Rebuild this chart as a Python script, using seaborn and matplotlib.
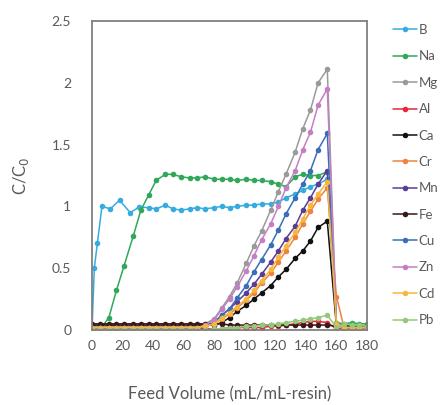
import numpy as np
import pandas as pd
import matplotlib
matplotlib.use("Agg")
import matplotlib.pyplot as plt
import seaborn as sns

sns.set_theme(style="white")
plt.rcParams['font.family'] = ['Lato', 'DejaVu Sans']

# ---- data ----
elements = ["B", "Na", "Mg", "Al", "Ca", "Cr", "Mn", "Fe", "Cu", "Zn", "Cd", "Pb"]

x_main = [0, 5, 11, 16, 21, 27, 32, 37, 42, 48, 53, 58, 64, 69, 74, 80, 85, 90,
          95, 101, 106, 111, 117, 122, 127, 133, 138, 143, 148, 154, 160, 165,
          170, 175, 180]

x_B = [0, 1.5, 3.5, 6.5, 12, 18, 25, 31, 37, 42, 48, 53, 58, 64, 69, 74, 80, 85,
       90, 95, 101, 106, 111, 117, 122, 127, 133, 138, 143, 148, 154, 160, 165,
       170, 175, 180]
B = [0, 0.50, 0.70, 1.00, 0.98, 1.05, 0.95, 0.995, 0.99, 0.98, 1.01, 0.98, 0.97,
     0.98, 0.99, 0.98, 0.99, 1.00, 0.99, 1.00, 1.01, 1.01, 1.02, 1.02, 1.035,
     1.07, 1.10, 1.13, 1.16, 1.18, 1.22, 0.05, 0.04, 0.04, 0.03, 0.03]

Na = [0, 0.0, 0.10, 0.32, 0.52, 0.76, 0.97, 1.09, 1.21, 1.26, 1.26, 1.24, 1.23,
      1.23, 1.24, 1.22, 1.22, 1.22, 1.21, 1.22, 1.21, 1.21, 1.20, 1.18, 1.16,
      1.24, 1.26, 1.25, 1.25, 1.28, 0.06, 0.05, 0.06, 0.05, 0.05]

Mg = [0.02, 0.02, 0.02, 0.02, 0.02, 0.02, 0.02, 0.02, 0.02, 0.02, 0.02, 0.02,
      0.02, 0.03, 0.05, 0.09, 0.18, 0.27, 0.38, 0.54, 0.68, 0.80, 0.97, 1.12,
      1.26, 1.44, 1.63, 1.78, 2.00, 2.11, 0.05, 0.03, 0.02, 0.02, 0.02]

Al = [0.01, 0.01, 0.01, 0.01, 0.01, 0.01, 0.01, 0.01, 0.01, 0.01, 0.01, 0.01,
      0.01, 0.01, 0.01, 0.01, 0.01, 0.02, 0.02, 0.02, 0.02, 0.02, 0.03, 0.03,
      0.04, 0.05, 0.06, 0.07, 0.07, 0.06, 0.01, 0.01, 0.01, 0.01, 0.01]

Ca = [0.04, 0.04, 0.04, 0.04, 0.04, 0.04, 0.04, 0.04, 0.04, 0.04, 0.04, 0.04,
      0.04, 0.04, 0.04, 0.04, 0.06, 0.10, 0.15, 0.20, 0.25, 0.30, 0.36, 0.43,
      0.49, 0.58, 0.64, 0.72, 0.83, 0.88, 0.03, 0.03, 0.03, 0.03, 0.03]

Cr = [0.02, 0.02, 0.02, 0.02, 0.02, 0.02, 0.02, 0.02, 0.02, 0.02, 0.02, 0.02,
      0.02, 0.02, 0.03, 0.05, 0.09, 0.13, 0.18, 0.24, 0.30, 0.38, 0.46, 0.55,
      0.64, 0.75, 0.86, 0.96, 1.06, 1.15, 0.27, 0.02, 0.02, 0.02, 0.02]

Mn = [0.02, 0.02, 0.02, 0.02, 0.02, 0.02, 0.02, 0.02, 0.02, 0.02, 0.02, 0.02,
      0.02, 0.02, 0.03, 0.06, 0.12, 0.17, 0.23, 0.30, 0.37, 0.45, 0.55, 0.64,
      0.74, 0.84, 0.97, 1.07, 1.18, 1.29, 0.04, 0.02, 0.02, 0.02, 0.02]

Fe = [0.05, 0.05, 0.05, 0.05, 0.05, 0.05, 0.05, 0.05, 0.05, 0.05, 0.05, 0.05,
      0.05, 0.05, 0.05, 0.05, 0.05, 0.04, 0.04, 0.04, 0.04, 0.04, 0.04, 0.04,
      0.04, 0.04, 0.04, 0.04, 0.04, 0.04, 0.03, 0.03, 0.03, 0.03, 0.03]

Cu = [0.02, 0.02, 0.02, 0.02, 0.02, 0.02, 0.02, 0.02, 0.02, 0.02, 0.02, 0.02,
      0.02, 0.02, 0.03, 0.06, 0.12, 0.17, 0.26, 0.36, 0.47, 0.57, 0.69, 0.81,
      0.94, 1.07, 1.18, 1.29, 1.46, 1.59, 0.04, 0.02, 0.02, 0.02, 0.02]

Zn = [0.02, 0.02, 0.02, 0.02, 0.02, 0.02, 0.02, 0.02, 0.02, 0.02, 0.02, 0.02,
      0.02, 0.02, 0.04, 0.08, 0.17, 0.25, 0.35, 0.48, 0.60, 0.73, 0.86, 1.00,
      1.15, 1.29, 1.46, 1.60, 1.82, 1.95, 0.04, 0.02, 0.02, 0.02, 0.02]

Cd = [0.02, 0.02, 0.02, 0.02, 0.02, 0.02, 0.02, 0.02, 0.02, 0.02, 0.02, 0.02,
      0.02, 0.02, 0.03, 0.05, 0.10, 0.14, 0.19, 0.25, 0.32, 0.40, 0.49, 0.59,
      0.68, 0.79, 0.90, 1.01, 1.10, 1.20, 0.05, 0.02, 0.02, 0.02, 0.02]

Pb = [0.0, 0.0, 0.0, 0.0, 0.0, 0.0, 0.0, 0.0, 0.0, 0.0, 0.0, 0.0, 0.0, 0.0,
      0.0, 0.01, 0.01, 0.02, 0.02, 0.03, 0.03, 0.04, 0.04, 0.05, 0.06, 0.07,
      0.08, 0.09, 0.10, 0.12, 0.02, 0.05, 0.04, 0.04, 0.03]

colors = ["#35ACDF", "#2FA85A", "#9A9A9A", "#E8263C", "#111111", "#F0823F",
          "#5A3C98", "#3A1818", "#3A6FB8", "#C47FC4", "#F6B73C", "#93C97A"]

series = {"B": B, "Na": Na, "Mg": Mg, "Al": Al, "Ca": Ca, "Cr": Cr, "Mn": Mn,
          "Fe": Fe, "Cu": Cu, "Zn": Zn, "Cd": Cd, "Pb": Pb}

rows = []
for el in elements:
    xs = x_B if el == "B" else x_main
    for xv, yv in zip(xs, series[el]):
        rows.append((el, xv, yv))
df = pd.DataFrame(rows, columns=["element", "x", "y"])

fig = plt.figure(figsize=(4.48, 4.05), dpi=100)
ax = fig.add_axes([92/448, 1 - 330/405, (367-92)/448, (330-21)/405])

sns.lineplot(data=df, x="x", y="y", hue="element", hue_order=elements,
             palette=dict(zip(elements, colors)), marker="o", markersize=4.0,
             markeredgewidth=0, linewidth=1.1, sort=False, estimator=None,
             ax=ax, legend=True)

ax.set_xlim(0, 180)
ax.set_ylim(0, 2.5)
ax.set_xticks([0, 20, 40, 60, 80, 100, 120, 140, 160, 180])
ax.set_yticks([0, 0.5, 1, 1.5, 2, 2.5])
ax.set_yticklabels(["0", "0.5", "1", "1.5", "2", "2.5"])
txtc = "#595959"
ax.tick_params(axis="y", direction="in", length=5, width=1, color="#555555",
               pad=15, labelsize=10, labelcolor=txtc)
ax.tick_params(axis="x", length=0, pad=7, labelsize=10, labelcolor=txtc)
for s in ax.spines.values():
    s.set_color("#808080")
    s.set_linewidth(1.3)

ax.set_xlabel("Feed Volume (mL/mL-resin)", fontsize=12, color=txtc, labelpad=25)
ax.set_ylabel("C/C$_0$", fontsize=12, color=txtc, labelpad=15)

handles, labels = ax.get_legend_handles_labels()
ax.get_legend().remove()
fig.legend(handles, labels, loc="upper left", bbox_to_anchor=(393/448, 1 - 24/405),
           frameon=False, fontsize=9.5, labelcolor=txtc, handlelength=1.8,
           handletextpad=0.15, labelspacing=1.09, borderpad=0, borderaxespad=0)

fig.savefig("out.png", dpi=100)
